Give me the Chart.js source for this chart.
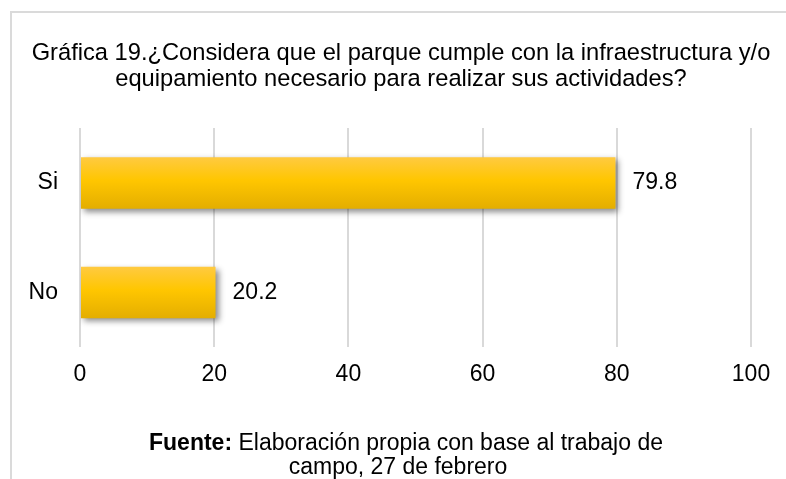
<!DOCTYPE html>
<html>
<head>
<meta charset="utf-8">
<script src="https://cdn.jsdelivr.net/npm/chart.js@4/dist/chart.umd.min.js"></script>
<style>
  body { margin: 0; background: #fff; }
  #frame { position: absolute; left: 10px; top: 11px; width: 780px; height: 470px;
           border-left: 2px solid #dadada; border-top: 2px solid #dadada; }
  canvas { position: absolute; left: 0; top: 0; }
</style>
</head>
<body>
<div id="frame"></div>
<canvas id="chart" width="786" height="479"></canvas>
<script>
// datos de la gráfica
const categorias = ['Si', 'No'];
const valores = [79.8, 20.2];
const titulo = ['Gráfica 19.¿Considera que el parque cumple con la infraestructura y/o',
                'equipamiento necesario para realizar sus actividades?'];
const fuenteBold = 'Fuente:';
const fuenteLineas = [' Elaboración propia con base al trabajo de', 'campo, 27 de febrero'];

const FAMILIA = '"Liberation Sans", Arial, sans-serif';

// degradado vertical de cada barra
function colorBarra(ctx) {
    const chart = ctx.chart;
    const y = chart.scales.y;
    const c = y ? y.getPixelForValue(ctx.dataIndex) : NaN;
    if (!isFinite(c)) return '#FFC600';
    const h = 51;
    const g = chart.ctx.createLinearGradient(0, c - h / 2, 0, c + h / 2);
    g.addColorStop(0, '#FFCA40');
    g.addColorStop(0.45, '#FFC600');
    g.addColorStop(1, '#E4AE00');
    return g;
}

// sombra de las barras y etiquetas de valor
const barras = {
    id: 'barras',
    afterLayout(chart) {
        // que las etiquetas "Si"/"No" no se recorten
        chart.scales.y.left = 0;
        // el título ocupa casi todo el ancho (sin comprimirse)
        chart.titleBlock.left = 21;
        chart.titleBlock.right = 781;
        chart.titleBlock.width = 760;
    },
    beforeDatasetsDraw(chart) {
        const ctx = chart.ctx;
        ctx.save();
        ctx.shadowColor = 'rgba(0,0,0,0.45)';
        ctx.shadowBlur = 6;
        ctx.shadowOffsetX = 3;
        ctx.shadowOffsetY = 3;
    },
    afterDatasetsDraw(chart) {
        const ctx = chart.ctx;
        ctx.restore();
        ctx.save();
        ctx.font = '23px ' + FAMILIA;
        ctx.fillStyle = '#000';
        ctx.textAlign = 'left';
        ctx.textBaseline = 'middle';
        chart.getDatasetMeta(0).data.forEach((bar, i) => {
            ctx.fillText(String(valores[i]), bar.x + 17, bar.y);
        });
        ctx.restore();
    }
};

// pie de la gráfica
const pie = {
    id: 'pie',
    afterDraw(chart) {
        const ctx = chart.ctx;
        ctx.save();
        ctx.fillStyle = '#000';
        ctx.textBaseline = 'alphabetic';
        ctx.font = 'bold 23px ' + FAMILIA;
        const wb = ctx.measureText(fuenteBold).width;
        ctx.font = '23px ' + FAMILIA;
        const wn = ctx.measureText(fuenteLineas[0]).width;
        let x = 406 - (wb + wn) / 2;
        ctx.font = 'bold 23px ' + FAMILIA;
        ctx.textAlign = 'left';
        ctx.fillText(fuenteBold, x, 450);
        ctx.font = '23px ' + FAMILIA;
        ctx.fillText(fuenteLineas[0], x + wb, 450);
        ctx.textAlign = 'center';
        ctx.fillText(fuenteLineas[1], 398, 474);
        ctx.restore();
    }
};

const chart = new Chart(document.getElementById('chart'), {
    type: 'bar',
    data: {
        labels: categorias,
        datasets: [{
            data: valores,
            backgroundColor: colorBarra,
            borderWidth: 0,
            categoryPercentage: 1,
            barPercentage: 0.47
        }]
    },
    plugins: [barras, pie],
    options: {
        indexAxis: 'y',
        responsive: false,
        animation: false,
        layout: { padding: { left: 51, right: 35, top: 0, bottom: 78 } },
        plugins: {
            legend: { display: false },
            tooltip: { enabled: false },
            title: {
                display: true,
                text: titulo,
                color: '#000',
                font: { family: FAMILIA, size: 23.7, weight: 'normal', lineHeight: 1.12 },
                padding: { top: 40, bottom: 35 }
            }
        },
        scales: {
            x: {
                min: 0,
                max: 100,
                z: 1,
                ticks: {
                    stepSize: 20,
                    color: '#000',
                    padding: 13,
                    font: { family: FAMILIA, size: 23 }
                },
                grid: { color: '#d9d9d9', lineWidth: 2, drawTicks: false },
                border: { display: false }
            },
            y: {
                ticks: {
                    color: '#000',
                    padding: 22,
                    font: { family: FAMILIA, size: 23 }
                },
                grid: { display: false, drawTicks: false },
                border: { display: false },
                afterFit(scale) { scale.width = 29; }
            }
        }
    }
});
</script>
</body>
</html>
